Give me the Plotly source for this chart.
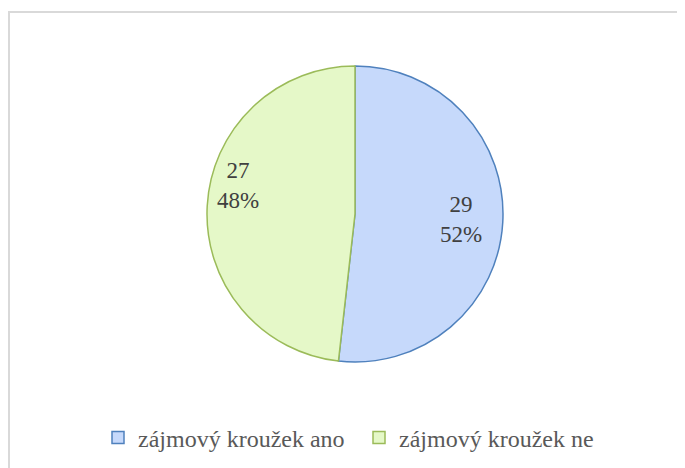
import math
import plotly.graph_objects as go

labels = ['zájmový kroužek ano', 'zájmový kroužek ne']
values = [29, 27]
fill_colors = ['#c6d9fb', '#e5f8c8']
line_colors = ['#4f81bd', '#9bbb59']

W, H = 685, 468
OFF = 7  # page offset seen in the screenshot

# pie box in pixels (reference)
cx, cy, R = 354 - OFF, 213 - OFF, 148
SERIF = 'Liberation Serif'

fig = go.Figure()
fig.add_trace(go.Pie(
    labels=labels,
    values=values,
    sort=False,
    direction='clockwise',
    rotation=0,
    marker=dict(colors=fill_colors, line=dict(color=line_colors, width=1.5)),
    textinfo='none',
    domain=dict(x=[(cx - R) / W, (cx + R) / W], y=[1 - (cy + R) / H, 1 - (cy - R) / H]),
    hoverinfo='label+value+percent',
))

# data labels along each slice's mid angle (Excel "best fit" look)
label_radius = [106, 117]
label_nudge_y = [0, -22]
total = sum(values)
start = 0.0
for v, r, ny in zip(values, label_radius, label_nudge_y):
    mid = (start + v / 2) / total * 2 * math.pi
    start += v
    lx = cx + r * math.sin(mid)
    ly = cy - r * math.cos(mid) + ny
    fig.add_annotation(
        x=lx / W, y=1 - ly / H, xref='paper', yref='paper',
        xanchor='center', yanchor='middle',
        text=f'{v}<br>{round(v / total * 100)}%',
        showarrow=False, align='center',
        font=dict(family=SERIF, size=23, color='#404040'),
    )

# chart-area frame (only top/left edges visible in the crop)
fig.add_shape(type='rect', xref='paper', yref='paper',
              x0=(8 - OFF) / W, x1=1.2, y0=-0.2, y1=1 - (11 - OFF) / H,
              line=dict(color='#d9d9d9', width=2), fillcolor='rgba(0,0,0,0)')

fig.update_layout(
    width=W, height=H,
    margin=dict(l=0, r=0, t=0, b=0),
    paper_bgcolor='white',
    plot_bgcolor='white',
    font=dict(family=SERIF),
    showlegend=True,
    legend=dict(
        orientation='h',
        x=(358 - OFF) / W, xanchor='center',
        y=1 - (437 - OFF) / H, yanchor='middle',
        font=dict(family=SERIF, size=24, color='#595959'),
        itemwidth=30,
        entrywidth=216,
    ),
)

fig.write_html('out.html')
